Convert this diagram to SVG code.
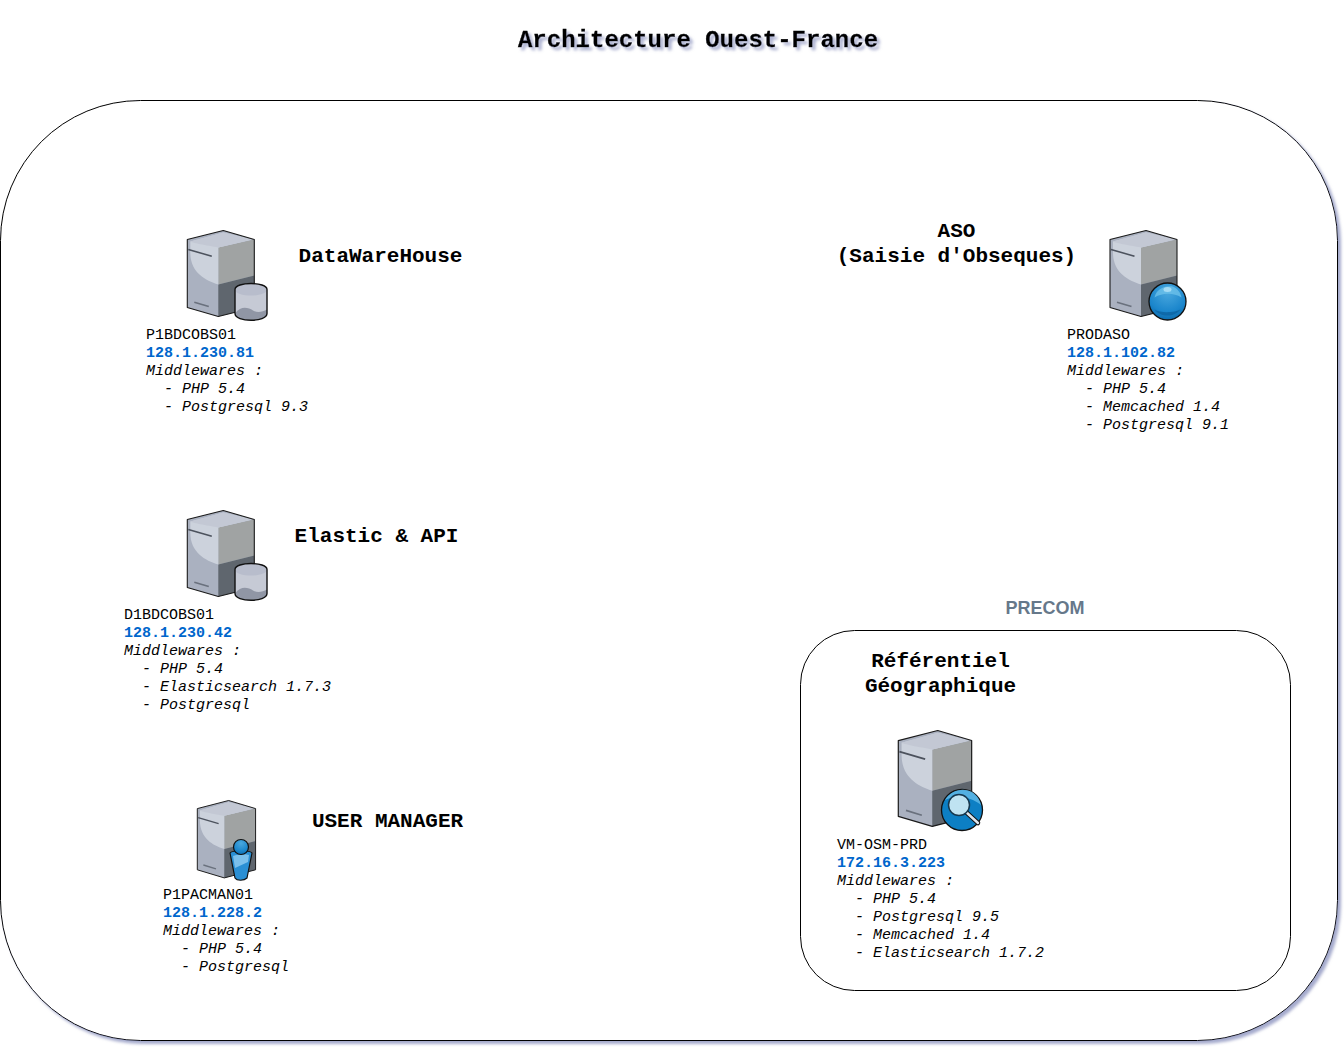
<svg xmlns="http://www.w3.org/2000/svg" width="1344" height="1048" viewBox="0 0 1344 1048">
<style>
text{font-family:"Liberation Mono",monospace;fill:#000;white-space:pre}
.t{font-size:24px;font-weight:bold;text-anchor:middle;stroke:#000;stroke-width:.35}
.h{font-size:21px;font-weight:bold;text-anchor:middle}
.s{font-size:15px}
.ip{font-weight:bold;fill:#0066cc}
.i{font-style:italic}
.box{fill:#fff;stroke:#000;stroke-width:1}
</style>
<defs>
<filter id="sh" x="-5%" y="-5%" width="110%" height="110%"><feGaussianBlur in="SourceAlpha" stdDeviation="1.7"/><feOffset dx="3" dy="3"/><feColorMatrix values="0 0 0 0 0.3 0 0 0 0 0.33 0 0 0 0 0.55 0 0 0 0.85 0"/><feMerge><feMergeNode/><feMergeNode in="SourceGraphic"/></feMerge></filter>
<filter id="tsh" x="-5%" y="-30%" width="110%" height="170%"><feGaussianBlur in="SourceAlpha" stdDeviation="1.6"/><feOffset dx="3" dy="3"/><feColorMatrix values="0 0 0 0 0.3 0 0 0 0 0.33 0 0 0 0 0.55 0 0 0 0.8 0"/><feMerge><feMergeNode/><feMergeNode in="SourceGraphic"/></feMerge></filter>
<radialGradient id="ball" cx="50%" cy="25%" r="75%"><stop offset="0" stop-color="#4aa8de"/><stop offset="0.7" stop-color="#1b86cc"/><stop offset="1" stop-color="#0d6cae"/></radialGradient>
<g id="srv">
<path d="M0 9L36 0L67 9V77L31 86L0 77Z" fill="#aab1c0"/>
<path d="M31 17L67 9V45L31 54Z" fill="#a0a3a3"/>
<path d="M31 54L67 45V77L31 86Z" fill="#5f666e"/>
<path d="M3 11L36 2L65 9L31 17V54C18 50 3 42 3 22Z" fill="#ccd2dc"/>
<path d="M3 11L36 2L65 9L31 17C20 15 3 12 3 11Z" fill="#c3c8d4"/>
<path d="M1 19L24.5 25.7" stroke="#4c525d" stroke-width="1.6" fill="none"/>
<path d="M7 71.7L21.5 76" stroke="#6a717d" stroke-width="1.6" fill="none"/>
<path d="M0 9L36 0L67 9V77L31 86L0 77Z" fill="none" stroke="#1a1a1a" stroke-width="1.1" stroke-linejoin="round"/>
</g>
<g id="cyl">
<path d="M0 6C0 -2 32 -2 32 6V30C32 39 0 39 0 30Z" fill="#b8bdcc"/>
<path d="M0 6C0 14 32 14 32 6V30C32 39 0 39 0 30Z" fill="#c6cad5"/>
<path d="M0 30C6 22 13 24 18 27C23 30 28 28 32 26V30C32 39 0 39 0 30Z" fill="#9096a5"/>
<path d="M0 6C0 -2 32 -2 32 6V30C32 39 0 39 0 30Z" fill="none" stroke="#111" stroke-width="1.4"/>
</g>
<g id="sph">
<circle cx="19" cy="19" r="18.5" fill="url(#ball)" stroke="#111" stroke-width="1.3"/>
<path d="M6 15C8 7 15 3 24 4C29 6 32 10 33 15C25 10 14 10 6 15Z" fill="#6cc0ea" opacity=".8"/>
<path d="M6 27C12 35 26 35 32 27C27 30 12 31 6 27Z" fill="#0b5f9c" opacity=".7"/>
<ellipse cx="19" cy="7" rx="4" ry="2.5" fill="#a5dcf5"/>
</g>
</defs>

<text class="t" x="698" y="47" filter="url(#tsh)">Architecture Ouest-France</text>

<g id="connectors"/>

<g id="zone-main"><rect class="box" x="0.5" y="100.5" width="1337" height="940" rx="140" ry="140" filter="url(#sh)"/></g>

<g id="zone-precom">
<text x="1045" y="614" text-anchor="middle" style="font-family:'Liberation Sans',sans-serif;font-size:18px;font-weight:bold;fill:#66788a">PRECOM</text>
<rect class="box" x="800.5" y="630.5" width="490" height="360" rx="54" ry="54"/>
</g>

<g id="node-datawarehouse">
<use href="#srv" x="187.3" y="230.500"/>
<use href="#cyl" x="235" y="283.500"/>
<text class="h" x="380.500" y="262">DataWareHouse</text>
<text class="s" x="146" y="339">P1BDCOBS01</text>
<text class="s ip" x="146" y="357">128.1.230.81</text>
<text class="s i" x="146" y="375">Middlewares :</text>
<text class="s i" x="146" y="393">  - PHP 5.4</text>
<text class="s i" x="146" y="411">  - Postgresql 9.3</text>
</g>

<g id="node-aso">
<use href="#srv" x="1110" y="230.500"/>
<use href="#sph" x="1148.500" y="282.500"/>
<text class="h" x="956.500" y="237">ASO</text>
<text class="h" x="956.500" y="262">(Saisie d'Obseques)</text>
<text class="s" x="1067" y="339">PRODASO</text>
<text class="s ip" x="1067" y="357">128.1.102.82</text>
<text class="s i" x="1067" y="375">Middlewares :</text>
<text class="s i" x="1067" y="393">  - PHP 5.4</text>
<text class="s i" x="1067" y="411">  - Memcached 1.4</text>
<text class="s i" x="1067" y="429">  - Postgresql 9.1</text>
</g>

<g id="node-elastic">
<use href="#srv" x="187.3" y="510.500"/>
<use href="#cyl" x="235" y="563.500"/>
<text class="h" x="376.500" y="542">Elastic &amp; API</text>
<text class="s" x="124" y="619">D1BDCOBS01</text>
<text class="s ip" x="124" y="637">128.1.230.42</text>
<text class="s i" x="124" y="655">Middlewares :</text>
<text class="s i" x="124" y="673">  - PHP 5.4</text>
<text class="s i" x="124" y="691">  - Elasticsearch 1.7.3</text>
<text class="s i" x="124" y="709">  - Postgresql</text>
</g>

<g id="node-usermanager">
<use href="#srv" transform="translate(197.300 800.500) scale(.87 .9)"/>
<path d="M230 853C232 850 250 850 252 853L247 878C244 881 237 881 235 878Z" fill="#2a8fd4" stroke="#111" stroke-width="1.200"/>
<path d="M233 856C238 854 246 854 249 855L248 862L235 868Z" fill="#7cc0ec"/>
<circle cx="241" cy="847" r="7.500" fill="url(#ball)" stroke="#111" stroke-width="1.200"/>
<text class="h" x="387.500" y="827">USER MANAGER</text>
<text class="s" x="163" y="899">P1PACMAN01</text>
<text class="s ip" x="163" y="917">128.1.228.2</text>
<text class="s i" x="163" y="935">Middlewares :</text>
<text class="s i" x="163" y="953">  - PHP 5.4</text>
<text class="s i" x="163" y="971">  - Postgresql</text>
</g>

<g id="node-referentiel">
<use href="#srv" transform="translate(898.300 730.500) scale(1.095 1.115)"/>
<circle cx="962" cy="810" r="20.500" fill="#0d7fc4" stroke="#111" stroke-width="1.300"/>
<path d="M945 800C950 791 962 787 972 792C978 796 980 801 981 805C970 796 955 795 945 800Z" fill="#5bb6e6" opacity=".9"/>
<path d="M966 812L978 823" stroke="#111" stroke-width="4.500" stroke-linecap="round"/>
<path d="M966 812L978 823" stroke="#dfe6ee" stroke-width="2.500" stroke-linecap="round"/>
<circle cx="959" cy="805" r="10.500" fill="#bfe3f2" stroke="#16384f" stroke-width="1.500"/>
<text class="h" x="940.500" y="667">Référentiel</text>
<text class="h" x="940.500" y="692">Géographique</text>
<text class="s" x="837" y="849">VM-OSM-PRD</text>
<text class="s ip" x="837" y="867">172.16.3.223</text>
<text class="s i" x="837" y="885">Middlewares :</text>
<text class="s i" x="837" y="903">  - PHP 5.4</text>
<text class="s i" x="837" y="921">  - Postgresql 9.5</text>
<text class="s i" x="837" y="939">  - Memcached 1.4</text>
<text class="s i" x="837" y="957">  - Elasticsearch 1.7.2</text>
</g>
</svg>
